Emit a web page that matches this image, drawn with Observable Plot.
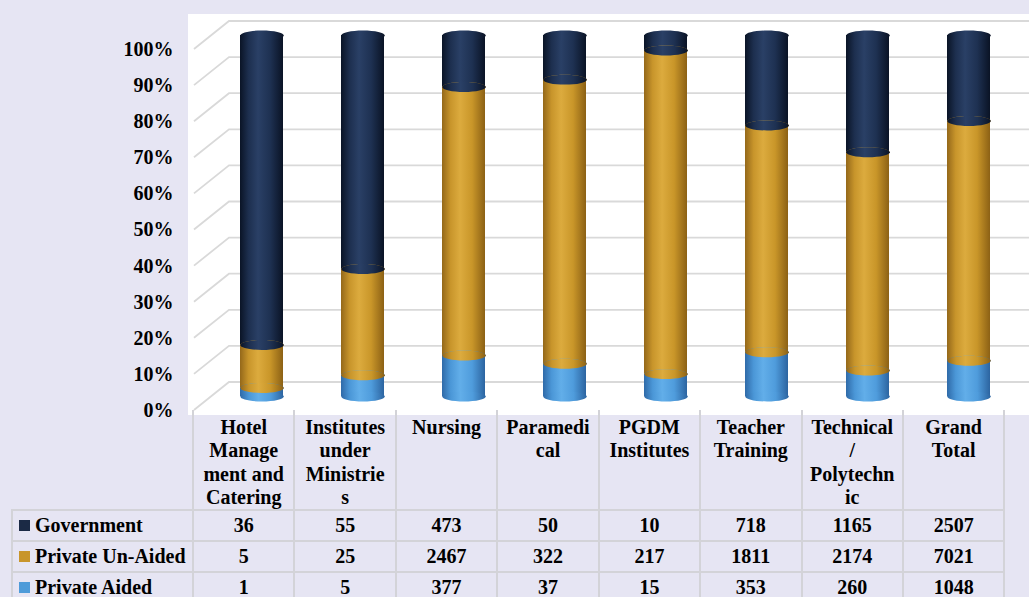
<!DOCTYPE html>
<html>
<head>
<meta charset="utf-8">
<script src="https://cdn.jsdelivr.net/npm/d3@7"></script>
<script src="https://cdn.jsdelivr.net/npm/@observablehq/plot@0.6"></script>
<style>
html, body { margin: 0; padding: 0; background: #e6e5f3; }
#wrap { position: relative; width: 1029px; height: 597px; overflow: hidden; background: #e6e5f3;
  font-family: "Liberation Serif", "Times New Roman", serif; }
#chart { position: absolute; left: 0; top: 0; }
#chart svg { display: block; }
table { position: absolute; left: 11px; top: 410px; border-collapse: collapse; table-layout: fixed;
  width: 992px; font-weight: bold; font-size: 20px; color: #000; }
td { padding: 0; text-align: center; border: 2px solid #d3d3d8; box-sizing: border-box; }
tr.head td { vertical-align: top; height: 99px; line-height: 23.3px; padding-top: 6px; border-top: none; }
tr.head td.blank { border-left: none; border-top: none; }
tr.row td { height: 31px; line-height: 27px; }
td.leg { text-align: left; padding-left: 6px; white-space: nowrap; }
.sw { display: inline-block; width: 11px; height: 11px; margin-right: 5px; vertical-align: 1px; }
</style>
</head>
<body>
<div id="wrap">
  <div id="chart"></div>
  <table id="tbl"></table>
</div>
<script>
// ---- data ----
const categories = ["Hotel Management and Catering", "Institutes under Ministries", "Nursing", "Paramedical",
  "PGDM Institutes", "Teacher Training", "Technical / Polytechnic", "Grand Total"];
const headerLines = [["Hotel", "Manage", "ment and", "Catering"], ["Institutes", "under", "Ministrie", "s"],
  ["Nursing"], ["Paramedi", "cal"], ["PGDM", "Institutes"], ["Teacher", "Training"],
  ["Technical", "/", "Polytechn", "ic"], ["Grand", "Total"]];
const series = ["Government", "Private Un-Aided", "Private Aided"];
const government = [36, 55, 473, 50, 10, 718, 1165, 2507];
const privateUnAided = [5, 25, 2467, 322, 217, 1811, 2174, 7021];
const privateAided = [1, 5, 377, 37, 15, 353, 260, 1048];
const yTicks = [0, 10, 20, 30, 40, 50, 60, 70, 80, 90, 100];

const seriesValues = {"Government": government, "Private Un-Aided": privateUnAided, "Private Aided": privateAided};
const swatch = {"Government": "#1b2a45", "Private Un-Aided": "#c8952b", "Private Aided": "#4e9bd9"};
const gradId = {"Government": "gGov", "Private Un-Aided": "gUn", "Private Aided": "gAid"};
const stackOrder = ["Private Aided", "Private Un-Aided", "Government"];

const data = categories.flatMap((c, i) => stackOrder.map(s => ({category: c, series: s, value: seriesValues[s][i]})));

// ellipse symbol for cylinder caps
const ellipse = {
  draw(ctx, size) {
    const rx = Math.sqrt(size / Math.PI), ry = rx * 0.23, k = 0.5523;
    ctx.moveTo(rx, 0);
    ctx.bezierCurveTo(rx, ry * k, rx * k, ry, 0, ry);
    ctx.bezierCurveTo(-rx * k, ry, -rx, ry * k, -rx, 0);
    ctx.bezierCurveTo(-rx, -ry * k, -rx * k, -ry, 0, -ry);
    ctx.bezierCurveTo(rx * k, -ry, rx, -ry * k, rx, 0);
    ctx.closePath();
  }
};

const depthX = 35, depthY = 14;

function wall(index, scales, values, dims) {
  const g = d3.create("svg:g");
  const x0 = scales.x(categories[0]);
  const yTop = scales.y(1) - depthY - 7;
  g.append("rect").attr("x", x0 - 6).attr("y", yTop)
    .attr("width", dims.width - x0 + 6).attr("height", dims.height - yTop).attr("fill", "#ffffff");
  for (const t of yTicks) {
    const yb = scales.y(t / 100);
    g.append("path")
      .attr("d", `M${x0},${yb + depthY}L${x0 + depthX},${yb - depthY}L${dims.width},${yb - depthY}`)
      .attr("fill", "none").attr("stroke", "#d9d9d9").attr("stroke-width", 1.8);
  }
  return g.node();
}

const common = {x: "category", y: "value", z: "series", fill: "series", offset: "normalize", order: stackOrder};

const chart = Plot.plot({
  width: 1029,
  height: 415,
  marginLeft: 192, marginRight: 0, marginTop: 35, marginBottom: 19,
  style: {background: "transparent", overflow: "visible"},
  x: {type: "band", domain: categories, range: [192, 1003.4], padding: 0, axis: null},
  y: {domain: [0, 1], range: [396, 35]},
  color: {domain: series, range: series.map(s => `url(#${gradId[s]})`)},
  marks: [
    wall,
    Plot.axisY({ticks: yTicks.map(d => d / 100), tickFormat: d3.format(".0%"), tickSize: 0, tickPadding: 19,
      dy: depthY, fontSize: 20, fontWeight: "bold", fontFamily: "Liberation Serif", fill: "#000", label: null}),
    Plot.barY(data, Plot.stackY({...common, insetLeft: 46, insetRight: 12})),
    Plot.dot(data, Plot.stackY2({...common, r: 21.7, symbol: ellipse, dx: 17})),
    Plot.dot(data, Plot.stackY1({...common, r: 21.7, symbol: ellipse, dx: 17}))
  ]
});

// gradients for cylinder shading
const defs = d3.select(chart).insert("defs", ":first-child");
const grads = {
  gGov: ["#0a1426", "#1d2f4f", "#2a4066", "#1e3152", "#0a1325"],
  gUn: ["#94681a", "#c8952b", "#dcab3e", "#c99629", "#8c6115"],
  gAid: ["#2f6aa8", "#4b97d7", "#62aee9", "#4f9cdc", "#2c64a0"]
};
for (const [id, cols] of Object.entries(grads)) {
  const lg = defs.append("linearGradient").attr("id", id).attr("x1", 0).attr("x2", 1).attr("y1", 0).attr("y2", 0);
  [0, 0.2, 0.42, 0.7, 1].forEach((o, i) => lg.append("stop").attr("offset", o).attr("stop-color", cols[i]));
}
document.getElementById("chart").appendChild(chart);

// ---- data table ----
const tbl = d3.select("#tbl");
const cg = tbl.append("colgroup");
cg.append("col").style("width", "181px");
categories.forEach(() => cg.append("col").style("width", "101.425px"));
const head = tbl.append("tr").attr("class", "head");
head.append("td").attr("class", "blank");
headerLines.forEach(lines => head.append("td").html(lines.join("<br>")));
for (const s of series) {
  const tr = tbl.append("tr").attr("class", "row");
  const td = tr.append("td").attr("class", "leg");
  td.append("span").attr("class", "sw").style("background", swatch[s]);
  td.append("span").text(s);
  seriesValues[s].forEach(v => tr.append("td").text(v));
}
</script>
</body>
</html>
